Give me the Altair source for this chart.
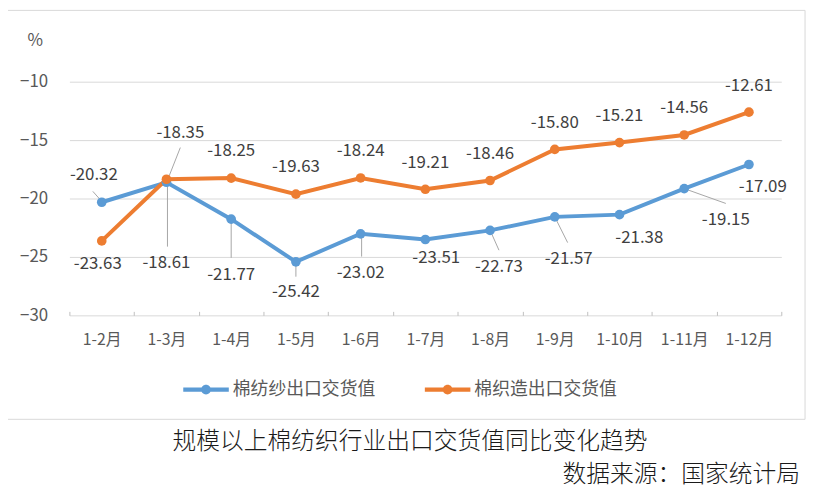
"""Cotton textile export delivery value, YoY change (Excel-style line chart)."""
import altair as alt
import pandas as pd

months = ["1-2月", "1-3月", "1-4月", "1-5月", "1-6月", "1-7月",
          "1-8月", "1-9月", "1-10月", "1-11月", "1-12月"]
yarn = [-20.32, -18.61, -21.77, -25.42, -23.02, -23.51,
        -22.73, -21.57, -21.38, -19.15, -17.09]
weave = [-23.63, -18.35, -18.25, -19.63, -18.24, -19.21,
         -18.46, -15.80, -15.21, -14.56, -12.61]
series_names = ["棉纺纱出口交货值", "棉织造出口交货值"]
colors = ["#5B9BD5", "#ED7D31"]
y_ticks = [-30, -25, -20, -15, -10]
chart_title = "规模以上棉纺织行业出口交货值同比变化趋势"
source_note = "数据来源：国家统计局"

# data label placement: pixel offsets from each point
yarn_label_dx = [-8, 0, 0, 0, 0, 11, 9, 14, 20, 42, 14]
yarn_label_dy = [-27, 82, 56, 31, 40, 19, 37, 43, 24, 32, 23]
weave_label_dx = [-4, 14, 0, 0, 0, 0, 0, 0, 0, 0, 0]
weave_label_dy = [23, -47, -27, -27, -27, -27, -27, -27, -27, -27, -26]
# leader lines: (series, month index, start dx, start dy, end dx, end dy)
leaders = [
    (0, 0, -1, -2, -9, -11),
    (1, 1, 1, 1, 14, -32),
    (0, 1, 1, 0, 1, 65),
    (0, 2, 0, 0, 0, 39),
    (0, 3, 0, 0, 0, 15),
    (0, 4, 1, 0, 1, 23),
    (0, 6, 1, 2, 9, 20),
    (0, 7, 0, 0, 13, 26),
    (0, 9, 0, 0, 42, 15),
]

W, H = 719, 236
PX_X = W / len(months)
PX_Y = H / 20
FONT = "Noto Sans CJK SC"

rows = []
for s, vals, ldx, ldy in [(0, yarn, yarn_label_dx, yarn_label_dy),
                          (1, weave, weave_label_dx, weave_label_dy)]:
    for i, v in enumerate(vals):
        rows.append({
            "i": i, "series": series_names[s], "value": v,
            "label": f"{v:.2f}",
            "lx": i + ldx[i] / PX_X, "ly": v - ldy[i] / PX_Y,
        })
df = pd.DataFrame(rows)

lead_rows = []
for s, i, x0, y0, x1, y1 in leaders:
    v = (yarn, weave)[s][i]
    lead_rows.append({"x": i + x0 / PX_X, "y": v - y0 / PX_Y,
                      "x2": i + x1 / PX_X, "y2": v - y1 / PX_Y})
lead_df = pd.DataFrame(lead_rows)

x_scale = alt.Scale(domain=[-0.5, len(months) - 0.5], nice=False, zero=False)
y_scale = alt.Scale(domain=[-30, -10], nice=False, zero=False)
color_scale = alt.Scale(domain=series_names, range=colors)

label_js = "[" + ",".join(f"'{m}'" for m in months) + ",'']"
x_axis = alt.Axis(
    values=[k - 0.5 for k in range(len(months) + 1)],
    labelExpr=f"{label_js}[round(datum.value + 0.5)]",
    labelOffset=PX_X / 2, grid=False, domain=False,
    ticks=True, tickSize=4, tickColor="#BFBFBF", offset=-4,
    labelPadding=16, labelFontSize=16, labelColor="#595959",
    labelFont=FONT, labelFlush=False, labelOverlap=False, title=None,
)
y_axis = alt.Axis(
    values=y_ticks, grid=True, gridColor="#D9D9D9", domain=False,
    ticks=False, labelPadding=22, labelFontSize=17, labelColor="#595959",
    labelFont=FONT, title="%", titleAngle=0, titleX=-35, titleY=-42,
    titleAlign="center", titleBaseline="middle", titleFontSize=17,
    titleFontWeight="normal", titleColor="#595959", titleFont=FONT,
)

legend_path = ("M-1,-0.095 L1,-0.095 L1,0.095 L-1,0.095 Z "
               "M0.217,0 A0.217,0.217 0 1,1 -0.217,0 "
               "A0.217,0.217 0 1,1 0.217,0 Z")
legend = alt.Legend(
    orient="none", legendX=115, legendY=288, direction="horizontal",
    title=None, symbolType=legend_path, symbolSize=2116,
    symbolStrokeWidth=0, symbolOpacity=1, labelFontSize=18,
    labelColor="#595959", labelFont=FONT, labelOffset=4, columnPadding=50,
)

base = alt.Chart(df)

frame = alt.Chart(pd.DataFrame({"a": [0]})).mark_rect(
    fillOpacity=0, stroke="#D9D9D9", strokeWidth=1
).encode(x=alt.value(-63), x2=alt.value(743), y=alt.value(-72), y2=alt.value(341))

leader_lines = alt.Chart(lead_df).mark_rule(
    color="#A6A6A6", strokeWidth=1
).encode(
    x=alt.X("x:Q", scale=x_scale, axis=x_axis),
    y=alt.Y("y:Q", scale=y_scale, axis=y_axis),
    x2="x2:Q", y2="y2:Q",
)

lines = base.mark_line(strokeWidth=4).encode(
    x=alt.X("i:Q", scale=x_scale, axis=x_axis),
    y=alt.Y("value:Q", scale=y_scale, axis=y_axis),
    color=alt.Color("series:N", scale=color_scale, legend=legend,
                    sort=series_names),
    detail="series:N",
)

points = base.mark_point(filled=True, size=95, opacity=1).encode(
    x=alt.X("i:Q", scale=x_scale),
    y=alt.Y("value:Q", scale=y_scale),
    color=alt.Color("series:N", scale=color_scale, legend=legend,
                    sort=series_names),
)

labels = base.mark_text(
    fontSize=17, color="#404040", font=FONT, align="center", baseline="middle"
).encode(
    x=alt.X("lx:Q", scale=x_scale),
    y=alt.Y("ly:Q", scale=y_scale),
    text="label:N",
)

titles = alt.Chart(pd.DataFrame({"a": [0]})).mark_text(
    fontSize=24, fontWeight=300, color="#1a1a1a", font=FONT,
    align="center", baseline="middle"
).encode(x=alt.value(344), y=alt.value(364), text=alt.value(chart_title))

source = alt.Chart(pd.DataFrame({"a": [0]})).mark_text(
    fontSize=24, fontWeight=300, color="#1a1a1a", font=FONT,
    align="right", baseline="middle"
).encode(x=alt.value(738), y=alt.value(397), text=alt.value(source_note))

chart = alt.layer(
    frame, leader_lines, lines, points, labels, titles, source
).properties(
    width=W, height=H,
    padding={"left": 62, "top": 72, "right": 30, "bottom": 177},
    autosize=alt.AutoSizeParams(type="none"),
    background="white",
).configure_view(stroke=None)

chart.save("out.html", embed_options={"renderer": "svg", "actions": False})
